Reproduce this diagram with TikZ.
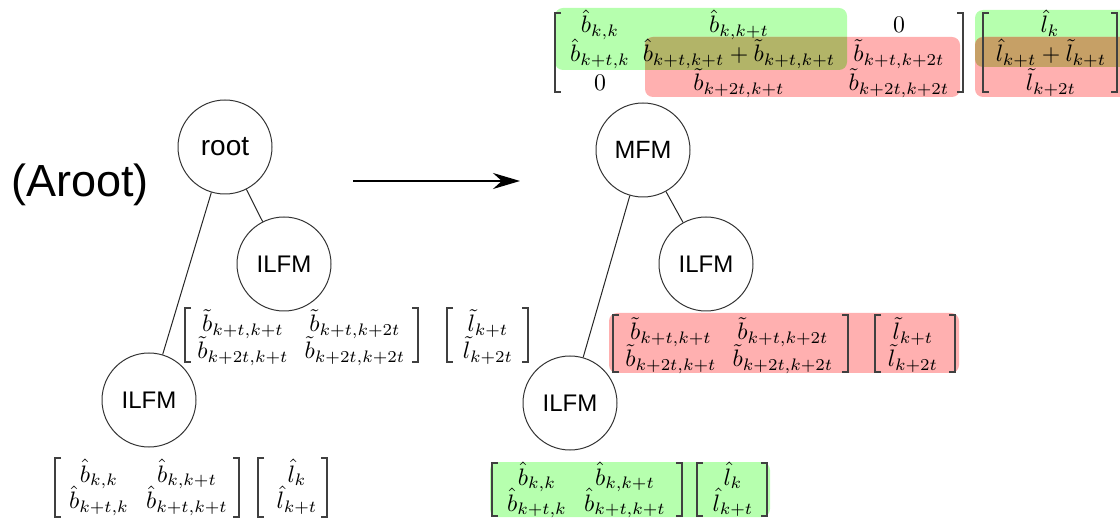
\documentclass[tikz,border=0pt]{standalone}
\usepackage{fontspec}
\newfontfamily\labelfont{Liberation Sans}
\usetikzlibrary{arrows.meta}
\definecolor{hlgreen}{RGB}{182,255,174}
\definecolor{hlred}{RGB}{255,176,176}
\definecolor{mixmat}{RGB}{178,180,104}
\definecolor{mixvec}{RGB}{198,160,102}

% bracket helpers: x, top y, bottom y
\newcommand{\openbr}[3]{\draw[brk] (#1+6,#2) -- (#1,#2) -- (#1,#3) -- (#1+6,#3);}
\newcommand{\closebr}[3]{\draw[brk] (#1-6,#2) -- (#1,#2) -- (#1,#3) -- (#1-6,#3);}
% matrix entries, enlarged math
\newcommand{\mx}[1]{\scalebox{1.19}{$#1$}}

\begin{document}
\begin{tikzpicture}[x=0.5pt,y=-0.5pt,
  tree/.style={circle,draw=black!80,line width=0.5pt,minimum size=47pt,inner sep=0pt,
               font=\labelfont\fontsize{12}{14}\selectfont},
  treeedge/.style={draw=black!85,line width=0.5pt},
  ent/.style={anchor=base,inner sep=0pt},
  brk/.style={draw=black!75,line width=0.6pt},
  hl/.style={rounded corners=4pt}
]
\useasboundingbox (0,0) rectangle (1120,518);

% ---------- highlight bands ----------
\fill[hlgreen,hl] (555,8) rectangle (847,70);
\fill[hlred,hl] (645,37) rectangle (960,97);
\begin{scope}
  \clip[hl] (555,8) rectangle (847,70);
  \fill[mixmat,hl] (645,37) rectangle (960,97);
\end{scope}
\fill[hlgreen,hl] (975,10) rectangle (1135,67);
\fill[hlred,hl] (975,37) rectangle (1135,97);
\begin{scope}
  \clip[hl] (975,10) rectangle (1135,67);
  \fill[mixvec,hl] (975,37) rectangle (1135,97);
\end{scope}
\fill[hlred,hl] (609,313) rectangle (959,373);
\fill[hlgreen,hl] (490,462) rectangle (770,517);

% ---------- left tree ----------
\node[anchor=base,font=\labelfont\fontsize{22.5}{26}\selectfont] (title) at (80,197) {(Aroot)};
\node[tree,font=\labelfont\fontsize{14}{16}\selectfont] (root) at (225,147) {root};
\node[tree] (lright) at (284,264) {ILFM};
\node[tree] (lleft) at (149,400) {ILFM};
\draw[treeedge] (root) -- (lright);
\draw[treeedge] (root) -- (lleft);

% ---------- arrow ----------
\coordinate (arrS) at (353,181);
\coordinate (arrE) at (520,181);
\draw[line width=0.75pt,-{Stealth[length=13.5pt,width=8pt]}] (arrS) -- (arrE);

% ---------- right tree ----------
\node[tree,font=\labelfont\fontsize{12.5}{14}\selectfont] (mfm) at (643,150) {MFM};
\node[tree] (rright) at (706,264) {ILFM};
\node[tree] (rleft) at (570,403) {ILFM};
\draw[treeedge] (mfm) -- (rright);
\draw[treeedge] (mfm) -- (rleft);

% ---------- left tree: tilde block ----------
\openbr{185}{308}{362} \closebr{418}{308}{362}
\node[ent] (ta11) at (243,332) {\mx{\tilde{b}_{k+t,k+t}}};
\node[ent] (ta12) at (355,332) {\mx{\tilde{b}_{k+t,k+2t}}};
\node[ent] (ta21) at (243,359) {\mx{\tilde{b}_{k+2t,k+t}}};
\node[ent] (ta22) at (355,359) {\mx{\tilde{b}_{k+2t,k+2t}}};
\openbr{447}{308}{362} \closebr{528}{308}{362}
\node[ent] (tav1) at (488,332) {\mx{\tilde{l}_{k+t}}};
\node[ent] (tav2) at (488,359) {\mx{\tilde{l}_{k+2t}}};

% ---------- left tree: hat block ----------
\openbr{55}{458}{517} \closebr{239}{458}{517}
\node[ent] (ha11) at (99,482) {\mx{\hat{b}_{k,k}}};
\node[ent] (ha12) at (187,482) {\mx{\hat{b}_{k,k+t}}};
\node[ent] (ha21) at (99,509) {\mx{\hat{b}_{k+t,k}}};
\node[ent] (ha22) at (187,509) {\mx{\hat{b}_{k+t,k+t}}};
\openbr{258}{458}{517} \closebr{327}{458}{517}
\node[ent] (hav1) at (297,482) {\mx{\hat{l}_{k}}};
\node[ent] (hav2) at (297,509) {\mx{\hat{l}_{k+t}}};

% ---------- right tree: tilde block ----------
\openbr{613}{315}{372} \closebr{848}{315}{372}
\node[ent] (tb11) at (671,340) {\mx{\tilde{b}_{k+t,k+t}}};
\node[ent] (tb12) at (783,340) {\mx{\tilde{b}_{k+t,k+2t}}};
\node[ent] (tb21) at (671,367) {\mx{\tilde{b}_{k+2t,k+t}}};
\node[ent] (tb22) at (783,367) {\mx{\tilde{b}_{k+2t,k+2t}}};
\openbr{875}{315}{372} \closebr{955}{315}{372}
\node[ent] (tbv1) at (913,340) {\mx{\tilde{l}_{k+t}}};
\node[ent] (tbv2) at (913,367) {\mx{\tilde{l}_{k+2t}}};

% ---------- right tree: hat block ----------
\openbr{492}{463}{516} \closebr{682}{463}{516}
\node[ent] (hb11) at (537,485) {\mx{\hat{b}_{k,k}}};
\node[ent] (hb12) at (625,485) {\mx{\hat{b}_{k,k+t}}};
\node[ent] (hb21) at (537,511) {\mx{\hat{b}_{k+t,k}}};
\node[ent] (hb22) at (625,511) {\mx{\hat{b}_{k+t,k+t}}};
\openbr{697}{463}{516} \closebr{767}{463}{516}
\node[ent] (hbv1) at (733,485) {\mx{\hat{l}_{k}}};
\node[ent] (hbv2) at (733,511) {\mx{\hat{l}_{k+t}}};

% ---------- merged system ----------
\openbr{555}{13}{92} \closebr{963}{13}{92}
\node[ent] (m11) at (600,33) {\mx{\hat{b}_{k,k}}};
\node[ent] (m12) at (739,33) {\mx{\hat{b}_{k,k+t}}};
\node[ent] (m13) at (899,33) {\mx{0}};
\node[ent] (m21) at (600,62) {\mx{\hat{b}_{k+t,k}}};
\node[ent] (m22) at (739,62) {\mx{\hat{b}_{k+t,k+t}+\tilde{b}_{k+t,k+t}}};
\node[ent] (m23) at (899,62) {\mx{\tilde{b}_{k+t,k+2t}}};
\node[ent] (m31) at (600,91) {\mx{0}};
\node[ent] (m32) at (739,91) {\mx{\tilde{b}_{k+2t,k+t}}};
\node[ent] (m33) at (899,91) {\mx{\tilde{b}_{k+2t,k+2t}}};
\openbr{983}{13}{92} \closebr{1117}{13}{92}
\node[ent] (mv1) at (1050,33) {\mx{\hat{l}_{k}}};
\node[ent] (mv2) at (1051,62) {\mx{\hat{l}_{k+t}+\tilde{l}_{k+t}}};
\node[ent] (mv3) at (1051,91) {\mx{\tilde{l}_{k+2t}}};
\end{tikzpicture}
\end{document}
